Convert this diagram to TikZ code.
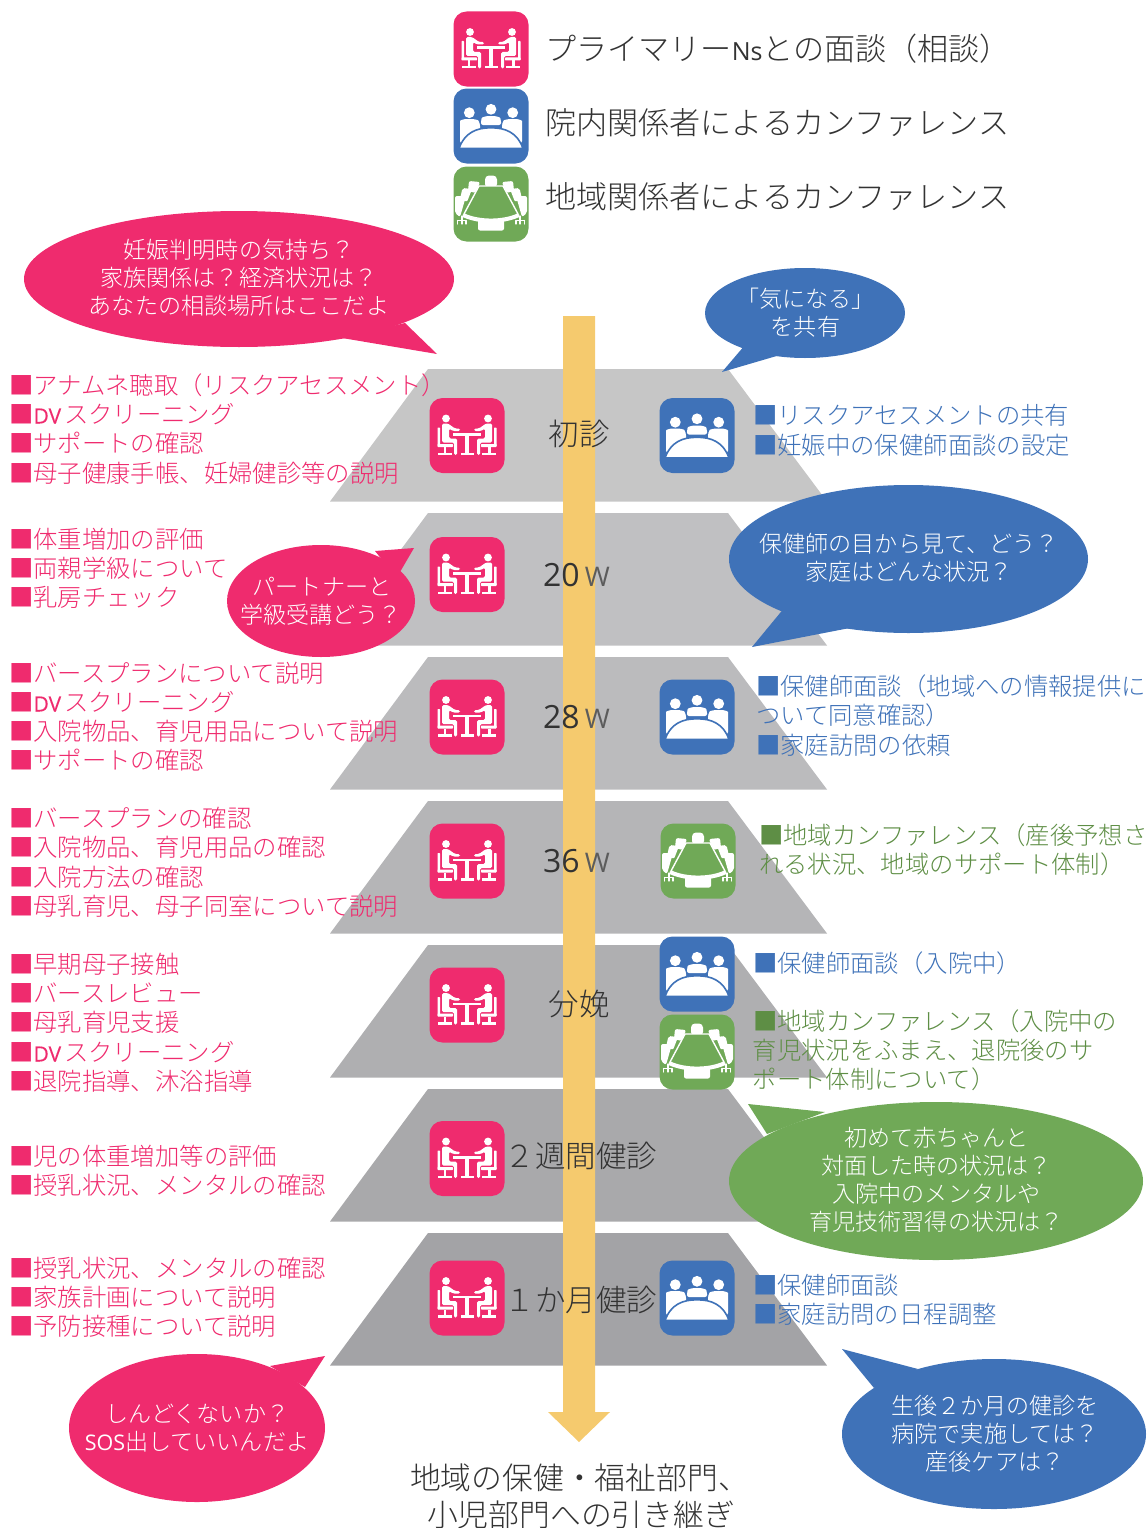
\documentclass[tikz,border=0pt]{standalone}
\usepackage{fontspec}
\setmainfont{Noto Sans CJK JP}[UprightFont=* Light,BoldFont=* Medium]
\newfontfamily\lat{Open Sans}
\newfontfamily\latb{Open Sans}[FakeBold=0.3]
\definecolor{cpink}{HTML}{EF2B6E}
\definecolor{cblue}{HTML}{3F72B8}
\definecolor{cgreen}{HTML}{70A957}
\definecolor{cdgreen}{HTML}{5E8E45}
\definecolor{carrow}{HTML}{F5CA6E}
\definecolor{cdark}{HTML}{333333}
\newcommand{\DV}{{\latb\fontsize{21}{29}\selectfont DV}\hspace{3pt}}
\newcommand{\tline}[5]{\node[tl,text=#4] (#1) at (#2,#3+9.5) {#5};}
\newcommand{\wk}[1]{{\lat\fontsize{32}{36}\selectfont #1}\,{\lat\fontsize{27}{36}\selectfont\color{cdark!80} W}}
\newcommand{\personhalf}{%
    \fill[white] (-21,-17) circle (3.9);
    \fill[white,rounded corners=.6pt] (-29.5,-8) rectangle (-27,11);
    \fill[white,rounded corners=.6pt] (-29.5,8.5) rectangle (-14,11.5);
    \fill[white] (-23.5,11.5) rectangle (-21,17);
    \fill[white] (-29,17) rectangle (-15,19.5);
    \fill[white,rounded corners=1.5pt] (-25,-12) -- (-19,-12) -- (-12,-7) -- (-7,-7) -- (-7,-4.5) -- (-14,-4.5) -- (-18,-7) -- (-18,3) -- (-10,3) -- (-10,19.5) -- (-13,19.5) -- (-13,7) -- (-25,7) -- cycle;
}
\tikzset{
  x=1pt,y=-1pt,
  tl/.style={anchor=base west,inner sep=0pt,font=\fontsize{24.35}{29}\selectfont},
  big/.style={anchor=base west,inner sep=0pt,text=cdark,font=\fontsize{31.1}{36}\selectfont},
  lab/.style={inner sep=0pt,text=cdark,font=\fontsize{30.5}{36}\selectfont,anchor=base},
  endtxt/.style={inner sep=0pt,text=cdark,font=\fontsize{30.8}{36}\selectfont},
  bal/.style={align=center,inner sep=0pt,text=white,font=\fontsize{23.1}{28}\selectfont},
  iconbox/.style={rounded corners=13pt,fill=#1},
  pinkicon/.pic={
    \fill[iconbox=cpink] (-37.5,-37.5) rectangle (37.5,37.5);
    \personhalf
    \begin{scope}[xscale=-1]\personhalf\end{scope}
    \fill[white] (-14,-2.5) rectangle (14,0);
    \fill[white] (-1.7,0) rectangle (1.7,17);
    \fill[white] (-6.5,17) rectangle (6.5,19.5);
  },
  blueicon/.pic={
    \fill[iconbox=cblue] (-37.5,-37.5) rectangle (37.5,37.5);
    \foreach \hx/\hy in {-21.7/-13.3,0/-16.7,21.7/-13.3}{\fill[white] (\hx,\hy) circle (5.4);}
    \fill[white,rounded corners=3pt] (-31,18) -- (-31,-2) .. controls (-31,-6) and (-26,-7) .. (-21.7,-7) .. controls (-17,-7) and (-13,-6) .. (-11,-3) -- (-11,8) -- cycle;
    \fill[white,rounded corners=3pt] (31,18) -- (31,-2) .. controls (31,-6) and (26,-7) .. (21.7,-7) .. controls (17,-7) and (13,-6) .. (11,-3) -- (11,8) -- cycle;
    \fill[white,rounded corners=2pt] (-10,-1) -- (-10,-6) .. controls (-9,-9) and (-4,-10) .. (0,-10) .. controls (4,-10) and (9,-9) .. (10,-6) -- (10,-1) -- cycle;
    \fill[white,draw=cblue,line width=1.6pt] (-32,22.5) .. controls (-26,6) and (-14,1.8) .. (0,1.8) .. controls (14,1.8) and (26,6) .. (32,22.5) -- cycle;
    \fill[cblue] (-33.5,22) rectangle (33.5,25);
  },
  greenicon/.pic={
    \fill[iconbox=cgreen] (-37.5,-37.5) rectangle (37.5,37.5);
    \fill[white,rounded corners=4pt] (-6,-28.5) rectangle (6,-16);
    \foreach \s in {1,-1}{
      \begin{scope}[xscale=\s]
      \fill[white,rounded corners=2pt] (11,-22) -- (22,-23) -- (23,-13) -- (15,-11) -- cycle;
      \fill[white,rounded corners=2pt] (19,-15) -- (28.5,-16) -- (31,-5) -- (24,-2) -- cycle;
      \fill[white,rounded corners=2pt] (25,-8) -- (36,-8) -- (36,9) -- (31,13) -- cycle;
      \draw[white,line width=1.2pt,line cap=round] (25,16.5) -- (33.5,16.5) (25,16.5) -- (25,20) (29,16.5) -- (29,20) (33.5,16.5) -- (33.5,20) (29,12) -- (29,16.5);
      \end{scope}
    }
    \fill[white,rounded corners=2pt] (-13,15) rectangle (13,26.5);
    \fill[white] (-28,10) .. controls (-12,17.5) and (12,17.5) .. (28,10) -- (28.5,13) .. controls (12,20.5) and (-12,20.5) .. (-28.5,13) -- cycle;
    \fill[cgreen,draw=white,line width=1.4pt,line join=round] (-12,-18) -- (12,-18) -- (27,10) .. controls (12,17) and (-12,17) .. (-27,10) -- cycle;
  },
}
\begin{document}
\begin{tikzpicture}
\useasboundingbox (0,0) rectangle (1146,1528);
\clip (0,0) rectangle (1146,1528);
% trapezoids
\foreach \ty/\col in {369/C6C6C6,513/C0C0C2,657/BBBBBD,801/B5B5B7,945/AFAFB1,1089/A9A9AB,1233/A3A3A6}{
  \definecolor{tc}{HTML}{\col}
  \fill[tc] (428,\ty) -- (728,\ty) -- (827,\ty+132.5) -- (330,\ty+132.5) -- cycle;
}
% main arrow
\fill[carrow] (563,316) -- (595,316) -- (595,1412) -- (610,1412) -- (579,1442) -- (548,1412) -- (563,1412) -- cycle;
% legend
\pic at (491,49) {pinkicon};
\pic at (491,126) {blueicon};
\pic at (491,204) {greenicon};
\node[big] (leg1) at (545,60.5) {プライマリー{\lat\fontsize{25}{30}\selectfont Ns}との面談（相談）};
\node[big] (leg2) at (545,134.5) {院内関係者によるカンファレンス};
\node[big] (leg3) at (545,208.5) {地域関係者によるカンファレンス};
% icons in stages
\foreach \iy in {435.5,574.5,717,861,1005,1158.5,1298}{\pic at (467,\iy) {pinkicon};}
\pic at (697,435.5) {blueicon};
\pic at (697,717) {blueicon};
\pic at (698,861) {greenicon};
\pic at (697,974) {blueicon};
\pic at (697,1052) {greenicon};
\pic at (697,1298) {blueicon};
% balloons
\fill[cpink] (239,279) ellipse [x radius=215,y radius=68];
\fill[cpink] (342,338) -- (437,354) -- (405,323) -- cycle;
\fill[cblue] (805,313) ellipse [x radius=100,y radius=45];
\fill[cblue] (745,345) -- (722,372) -- (780,355) -- cycle;
\fill[cpink] (321,601) ellipse [x radius=94,y radius=56];
\fill[cpink] (375,551) -- (414,548) -- (400,572) -- (392,572) -- cycle;
\fill[cblue] (908.5,559) ellipse [x radius=179.5,y radius=74];
\fill[cblue] (785,607) -- (752,647) -- (860,626) -- cycle;
\fill[cgreen] (936,1181) ellipse [x radius=207,y radius=79];
\fill[cgreen] (767,1134) -- (748,1104) -- (825,1112) -- cycle;
\fill[cpink] (197,1428) ellipse [x radius=128,y radius=74];
\fill[cpink] (270,1366) -- (325,1356) -- (305,1387) -- cycle;
\fill[cblue] (994,1434) ellipse [x radius=152,y radius=75];
\fill[cblue] (918,1369) -- (842,1349) -- (874,1388) -- cycle;
\node[bal] (b1a) at (239,250) {妊娠判明時の気持ち？};
\node[bal] (b1b) at (239,278) {家族関係は？経済状況は？};
\node[bal] (b1c) at (239,306) {あなたの相談場所はここだよ};
\node[bal] (b2a) at (805.5,299) {「気になる」};
\node[bal] (b2b) at (805.5,327) {を共有};
\node[bal] (b3a) at (322,587) {パートナーと};
\node[bal] (b3b) at (321,615) {学級受講どう？};
\node[bal] (b4a) at (909,544) {保健師の目から見て、どう？};
\node[bal] (b4b) at (909,572) {家庭はどんな状況？};
\node[bal] (b5a) at (936.5,1138) {初めて赤ちゃんと};
\node[bal] (b5b) at (936.5,1166) {対面した時の状況は？};
\node[bal] (b5c) at (936.5,1194) {入院中のメンタルや};
\node[bal] (b5d) at (936.5,1222) {育児技術習得の状況は？};
\node[bal] (b6a) at (197.5,1414) {しんどくないか？};
\node[bal] (b6b) at (197,1442) {{\lat\fontsize{21.5}{28}\selectfont SOS}出していいんだよ};
\node[bal] (b7a) at (995,1406) {生後２か月の健診を};
\node[bal] (b7b) at (995,1434) {病院で実施しては？};
\node[bal] (b7c) at (995,1462) {産後ケアは？};
% stage labels
\node[lab] (s1) at (579,445.5) {初診};
\node[lab] (s2) at (576.5,586) {\wk{20}};
\node[lab] (s3) at (576.5,728) {\wk{28}};
\node[lab] (s4) at (576.5,872) {\wk{36}};
\node[lab] (s5) at (579,1015) {分娩};
\node[lab] (s6) at (581,1167) {２週間健診};
\node[lab] (s7) at (581,1311) {１か月健診};
% left texts
\tline{l1}{9}{385}{cpink}{■アナムネ聴取（リスクアセスメント）}
\tline{l2}{9}{414}{cpink}{■\DV スクリーニング}
\tline{l3}{9}{443}{cpink}{■サポートの確認}
\tline{l4}{9}{473}{cpink}{■母子健康手帳、妊婦健診等の説明}
\tline{l5}{9}{539}{cpink}{■体重増加の評価}
\tline{l6}{9}{568}{cpink}{■両親学級について}
\tline{l7}{9}{597}{cpink}{■乳房チェック}
\tline{l8}{9}{673}{cpink}{■バースプランについて説明}
\tline{l9}{9}{702}{cpink}{■\DV スクリーニング}
\tline{l10}{9}{731}{cpink}{■入院物品、育児用品について説明}
\tline{l11}{9}{760}{cpink}{■サポートの確認}
\tline{l12}{9}{818}{cpink}{■バースプランの確認}
\tline{l13}{9}{847}{cpink}{■入院物品、育児用品の確認}
\tline{l14}{9}{877}{cpink}{■入院方法の確認}
\tline{l15}{9}{906}{cpink}{■母乳育児、母子同室について説明}
\tline{l16}{9}{964}{cpink}{■早期母子接触}
\tline{l17}{9}{993}{cpink}{■バースレビュー}
\tline{l18}{9}{1022}{cpink}{■母乳育児支援}
\tline{l19}{9}{1052}{cpink}{■\DV スクリーニング}
\tline{l20}{9}{1081}{cpink}{■退院指導、沐浴指導}
\tline{l21}{9}{1156}{cpink}{■児の体重増加等の評価}
\tline{l22}{9}{1185}{cpink}{■授乳状況、メンタルの確認}
\tline{l23}{9}{1268}{cpink}{■授乳状況、メンタルの確認}
\tline{l24}{9}{1297}{cpink}{■家族計画について説明}
\tline{l25}{9}{1326}{cpink}{■予防接種について説明}
% right texts
\tline{r1}{753}{415}{cblue}{■リスクアセスメントの共有}
\tline{r2}{753}{445}{cblue}{■妊娠中の保健師面談の設定}
\tline{r3}{756}{685.5}{cblue}{■保健師面談（地域への情報提供に}
\tline{r4}{756}{715}{cblue}{ついて同意確認）}
\tline{r5}{756}{744.5}{cblue}{■家庭訪問の依頼}
\tline{r6}{759}{835}{cdgreen}{■地域カンファレンス（産後予想さ}
\tline{r7}{759}{864}{cdgreen}{れる状況、地域のサポート体制）}
\tline{r8}{753}{963}{cblue}{■保健師面談（入院中）}
\tline{r9}{753}{1021}{cdgreen}{■地域カンファレンス（入院中の}
\tline{r10}{752.5}{1050}{cdgreen}{育児状況をふまえ、退院後のサ}
\tline{r11}{752.5}{1079}{cdgreen}{ポート体制について）}
\tline{r12}{753}{1285}{cblue}{■保健師面談}
\tline{r13}{753}{1314}{cblue}{■家庭訪問の日程調整}
% bottom
\node[endtxt] (e1) at (579.5,1478) {地域の保健・福祉部門、};
\node[endtxt] (e2) at (581,1514.5) {小児部門への引き継ぎ};
\end{tikzpicture}
\end{document}
